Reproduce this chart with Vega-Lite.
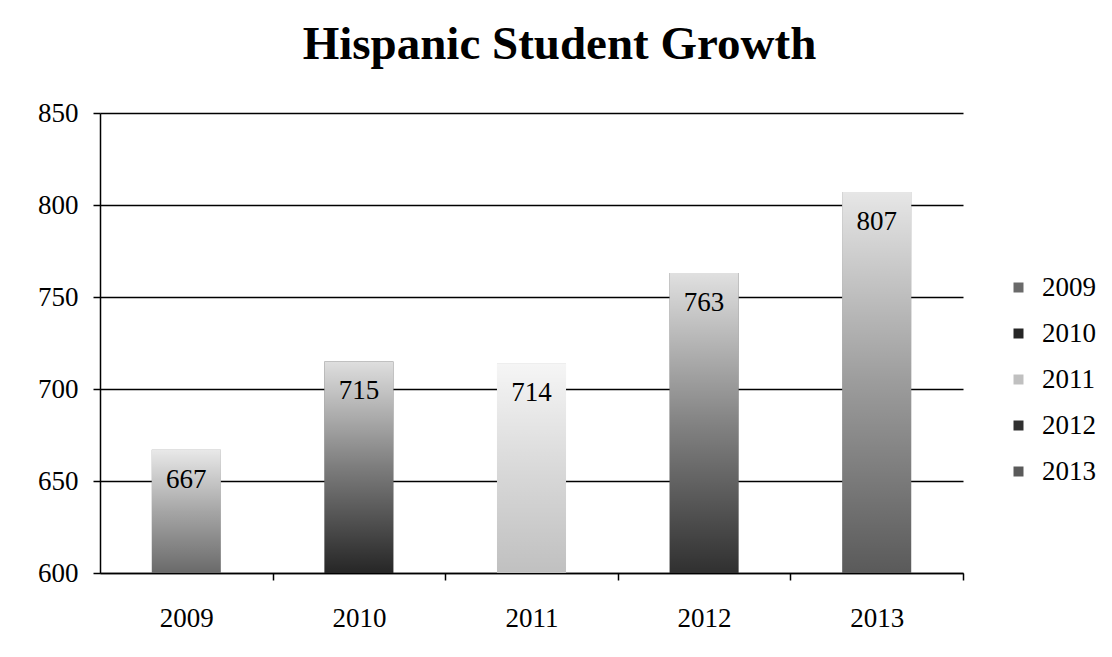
{
  "$schema": "https://vega.github.io/schema/vega-lite/v6.json",
  "width": 863,
  "height": 460,
  "autosize": {"type": "none"},
  "padding": {"left": 100, "top": 113, "right": 149, "bottom": 84},
  "background": "white",
  "title": {
    "text": "Hispanic Student Growth",
    "font": "Liberation Serif",
    "fontSize": 47,
    "fontWeight": "bold",
    "color": "black",
    "anchor": "middle",
    "dx": 28,
    "offset": 30
  },
  "data": {
    "values": [
      {"year": "2009", "students": 667},
      {"year": "2010", "students": 715},
      {"year": "2011", "students": 714},
      {"year": "2012", "students": 763},
      {"year": "2013", "students": 807}
    ]
  },
  "encoding": {
    "x": {
      "field": "year",
      "type": "nominal",
      "scale": {"paddingInner": 0.6, "paddingOuter": 0.3},
      "axis": {
        "title": null,
        "labelAngle": 0,
        "labelFont": "Liberation Serif",
        "labelFontSize": 27,
        "labelColor": "black",
        "labelPadding": 25,
        "tickOffset": 86.3,
        "labelOffset": -86.3,
        "tickColor": "black",
        "tickSize": 7,
        "tickWidth": 1.5,
        "domainColor": "black",
        "domainWidth": 1.5
      }
    },
    "y": {
      "field": "students",
      "type": "quantitative",
      "scale": {"domain": [600, 850], "zero": false, "nice": false},
      "axis": {
        "title": null,
        "values": [600, 650, 700, 750, 800, 850],
        "labelFont": "Liberation Serif",
        "labelFontSize": 27,
        "labelColor": "black",
        "labelPadding": 15,
        "tickColor": "black",
        "tickSize": 7,
        "tickWidth": 1.5,
        "grid": true,
        "gridColor": "black",
        "gridWidth": 1.4,
        "domainColor": "black",
        "domainWidth": 1.5
      }
    },
    "y2": {"datum": 600}
  },
  "layer": [
    {
      "mark": {"type": "bar"},
      "encoding": {
        "color": {
          "field": "year",
          "type": "nominal",
          "scale": {"range": ["#6a6a6a", "#262626", "#c0c0c0", "#303030", "#5a5a5a"]},
          "legend": {
            "title": null,
            "orient": "none",
            "legendX": 905,
            "legendY": 161,
            "padding": 0,
            "symbolType": "square",
            "symbolSize": 100,
            "symbolStrokeWidth": 0,
            "labelFont": "Liberation Serif",
            "labelFontSize": 27,
            "labelColor": "black",
            "labelOffset": 10,
            "rowPadding": 18
          }
        }
      }
    },
    {
      "mark": {
        "type": "bar",
        "fill": {
          "gradient": "linear",
          "x1": 0, "y1": 0, "x2": 0, "y2": 1,
          "stops": [
            {"offset": 0, "color": "rgba(255,255,255,0.85)"},
            {"offset": 0.5, "color": "rgba(255,255,255,0.4)"},
            {"offset": 1, "color": "rgba(255,255,255,0)"}
          ]
        }
      }
    },
    {
      "mark": {
        "type": "text",
        "font": "Liberation Serif",
        "fontSize": 27,
        "color": "black",
        "baseline": "middle",
        "dy": 30
      },
      "encoding": {
        "text": {"field": "students", "type": "quantitative"},
        "y2": null
      }
    }
  ],
  "config": {"view": {"stroke": null}}
}
